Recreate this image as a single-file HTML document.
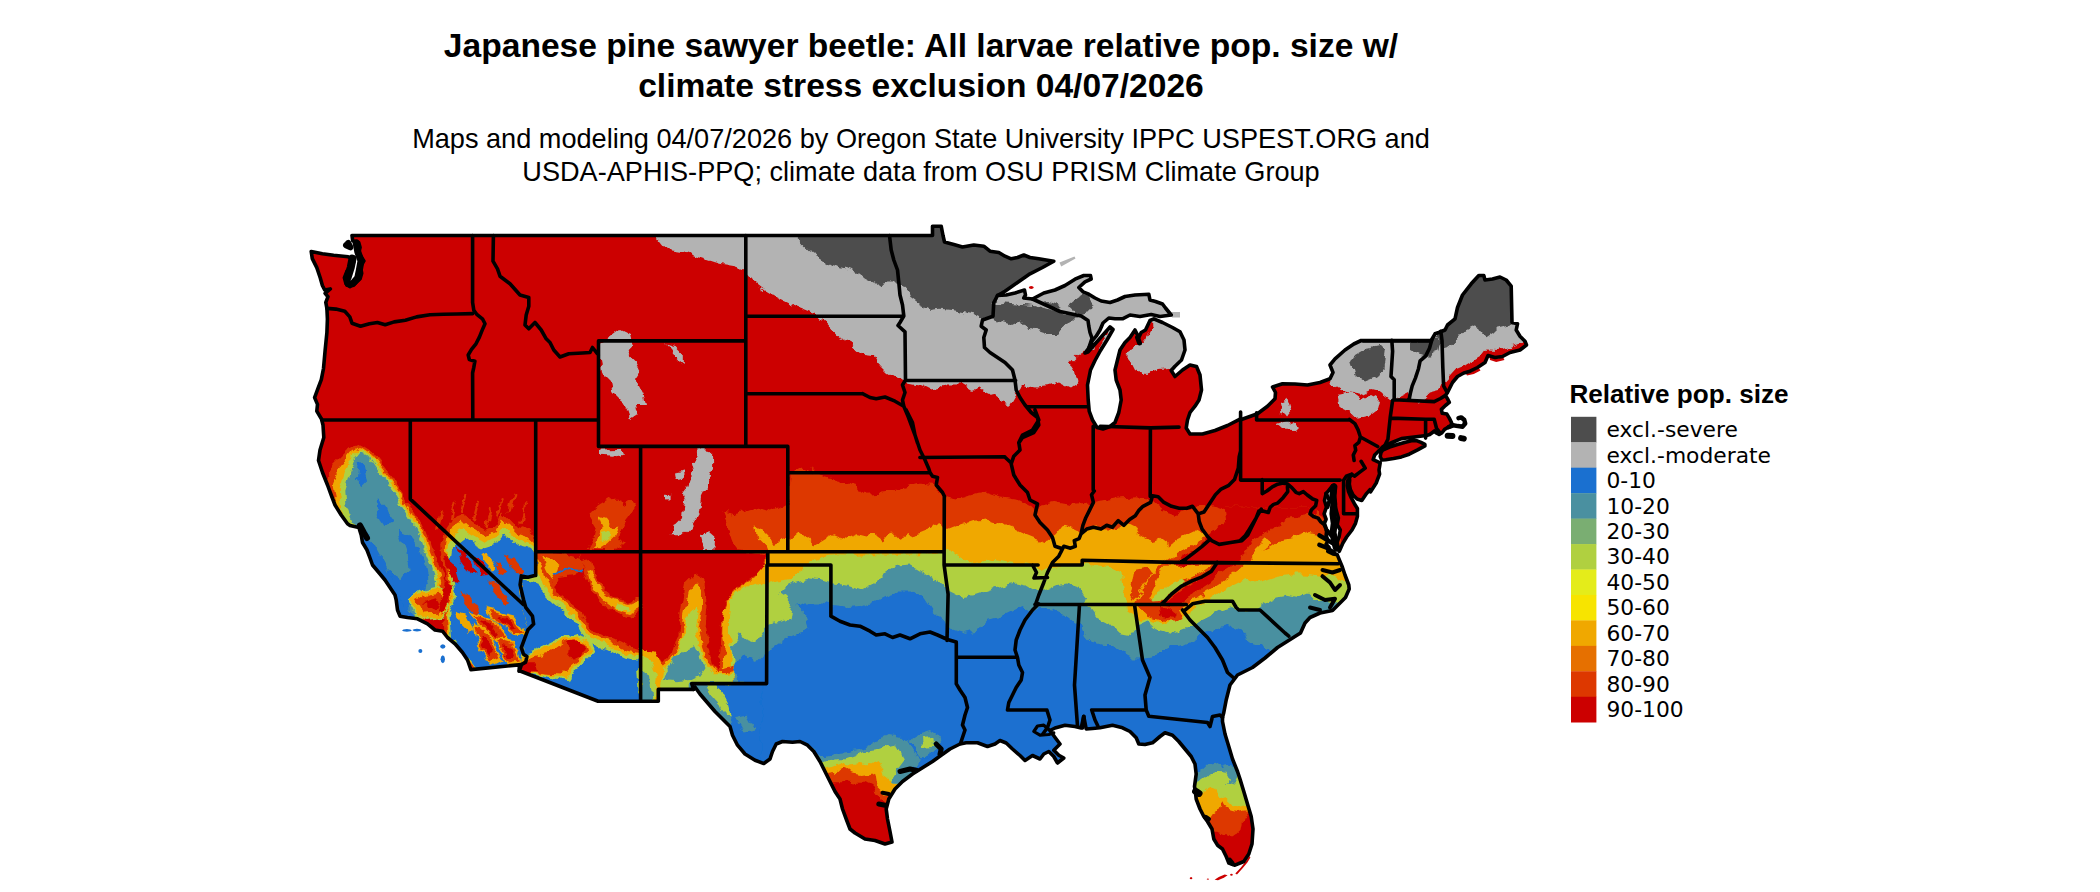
<!DOCTYPE html>
<html><head><meta charset="utf-8"><title>Japanese pine sawyer beetle</title>
<style>
html,body{margin:0;padding:0;background:#fff;}
svg{display:block}
.t{font:bold 33.6px "Liberation Sans",Arial,sans-serif;text-anchor:middle;fill:#000}
.s{font:27.13px "Liberation Sans",Arial,sans-serif;text-anchor:middle;fill:#000}
.lt{font:bold 26.1px "Liberation Sans",Arial,sans-serif;fill:#000}
.ll{font:21.8px "DejaVu Sans",Verdana,sans-serif;fill:#000}
</style></head><body>
<svg width="2100" height="892" viewBox="0 0 2100 892">
<rect width="2100" height="892" fill="#fff"/>
<text class="t" x="921" y="57.3">Japanese pine sawyer beetle: All larvae relative pop. size w/</text>
<text class="t" x="921" y="97">climate stress exclusion 04/07/2026</text>
<text class="s" x="921" y="148.1">Maps and modeling 04/07/2026 by Oregon State University IPPC USPEST.ORG and</text>
<text class="s" x="921" y="181.4">USDA-APHIS-PPQ; climate data from OSU PRISM Climate Group</text>
<defs><clipPath id="us"><path d="M352.3,235.5 932.5,235.5 932.5,226.2 941.2,226.2 943.0,235.5 944.5,242.0 953.8,244.5 962.5,247.0 973.8,245.0 983.8,246.2 990.0,251.2 998.8,252.5 1005.0,256.2 1011.2,258.8 1017.5,257.5 1023.8,255.0 1030.0,257.5 1038.8,258.8 1046.2,260.0 1053.8,261.2 1042.5,267.5 1030.0,273.8 1017.5,282.5 1005.0,291.2 997.5,295.5 1006.2,295.0 1015.0,293.0 1024.5,290.0 1025.5,295.0 1023.8,298.0 1032.5,299.0 1043.8,293.0 1055.0,290.0 1065.0,285.5 1075.0,279.2 1083.8,275.5 1090.5,275.5 1091.2,279.0 1085.0,281.8 1078.8,287.5 1083.0,291.8 1088.8,294.2 1095.0,298.0 1101.2,301.0 1110.0,302.5 1117.5,300.0 1125.0,296.5 1135.0,295.0 1148.8,294.2 1150.0,300.0 1155.5,301.5 1162.5,304.0 1165.5,308.0 1171.2,315.0 1160.0,316.5 1151.2,314.5 1140.0,316.5 1130.0,315.0 1122.5,318.8 1115.0,318.8 1108.8,318.0 1103.0,323.0 1100.0,330.0 1096.2,336.2 1092.5,340.5 1088.8,348.0 1085.0,353.0 1088.0,352.0 1095.0,344.0 1102.5,335.5 1110.0,327.0 1113.0,329.5 1107.0,340.0 1100.5,350.5 1095.0,360.5 1090.5,370.0 1087.5,385.0 1088.2,400.0 1089.2,411.2 1092.5,420.0 1097.0,427.5 1103.0,429.0 1110.0,426.5 1115.0,422.5 1118.8,412.5 1121.2,400.0 1120.0,390.0 1116.2,380.0 1115.0,370.0 1117.5,360.0 1120.0,350.0 1125.0,342.5 1130.0,337.5 1135.0,330.0 1138.8,337.5 1141.2,332.5 1145.5,330.0 1150.0,320.5 1153.8,318.8 1162.5,322.5 1172.5,327.5 1180.0,331.8 1184.0,340.0 1185.0,350.0 1181.5,360.0 1175.0,366.2 1171.2,370.5 1175.0,376.5 1182.5,370.0 1190.0,365.0 1196.5,366.5 1200.0,375.0 1201.5,390.0 1199.0,400.0 1195.0,406.2 1190.0,412.5 1187.5,420.0 1186.2,428.0 1190.0,434.0 1202.5,434.0 1215.0,430.5 1227.5,425.5 1240.0,419.2 1240.0,420.0 1257.5,413.8 1267.5,406.2 1275.0,398.8 1275.5,392.5 1272.5,387.0 1282.5,383.8 1295.0,384.0 1307.5,385.0 1320.0,382.5 1330.0,378.8 1333.0,372.5 1330.0,365.0 1335.0,358.8 1345.0,350.0 1353.8,344.0 1361.2,340.5 1431.2,340.5 1435.0,333.8 1438.8,332.5 1445.0,330.0 1447.5,325.0 1455.0,318.8 1457.5,307.5 1462.5,295.0 1471.2,283.8 1478.8,275.5 1483.8,275.5 1485.0,280.0 1492.5,279.0 1500.0,277.0 1506.2,280.0 1511.2,286.2 1512.0,322.5 1517.5,323.8 1516.2,330.0 1520.0,336.2 1525.0,341.2 1526.5,345.0 1520.0,350.0 1510.0,352.5 1502.5,356.5 1495.0,357.5 1488.0,355.5 1485.0,362.5 1477.5,367.5 1470.0,371.2 1463.8,373.0 1457.5,376.5 1452.5,382.5 1447.5,392.5 1445.5,395.5 1447.3,398.4 1449.3,402.4 1445.4,405.5 1441.4,409.4 1442.2,413.3 1446.9,414.1 1449.3,418.1 1451.6,422.8 1450.8,426.3 1447.7,427.5 1444.6,429.4 1441.8,433.0 1439.1,434.5 1436.3,433.0 1434.4,431.0 1432.8,432.2 1429.7,434.5 1426.5,435.5 1414.0,437.0 1401.4,438.6 1392.0,442.5 1383.3,446.3 1379.4,450.2 1374.7,454.9 1373.1,459.7 1380.2,462.8 1379.0,470.0 1379.6,474.0 1376.2,483.0 1370.6,491.9 1370.0,489.6 1366.5,493.6 1361.8,500.4 1357.1,499.0 1353.1,495.0 1350.4,489.6 1349.3,484.2 1349.7,479.9 1347.9,480.2 1347.3,485.6 1348.5,491.6 1351.2,497.7 1354.4,503.7 1357.4,508.5 1357.4,516.5 1355.5,523.3 1352.0,530.0 1346.6,537.0 1342.6,543.7 1339.3,551.3 1338.0,548.8 1337.2,542.1 1339.1,536.7 1340.3,530.0 1337.2,524.6 1338.4,517.9 1336.4,511.1 1335.0,504.4 1334.3,497.7 1335.0,491.0 1334.2,485.0 1332.6,485.6 1328.8,490.3 1326.1,493.6 1324.5,500.4 1326.4,507.1 1324.1,513.8 1326.1,519.2 1324.4,523.3 1326.8,530.0 1326.1,535.4 1328.2,540.8 1326.1,544.1 1329.1,547.5 1327.8,551.3 1332.9,553.9 1337.2,554.6 1342.0,566.2 1345.0,575.0 1348.8,585.0 1349.2,589.0 1345.5,597.5 1335.5,607.5 1332.5,610.5 1320.0,613.0 1310.0,617.5 1305.0,623.0 1300.5,633.0 1277.5,647.5 1265.0,658.0 1252.5,667.5 1237.5,675.0 1230.0,685.0 1226.2,700.0 1223.8,712.5 1222.5,717.5 1222.5,721.5 1225.0,734.0 1228.8,746.5 1232.5,759.0 1237.5,771.5 1240.0,779.0 1243.8,791.5 1247.5,804.0 1251.2,816.5 1253.0,829.0 1252.0,844.0 1248.8,854.0 1243.8,861.5 1235.0,865.2 1228.8,863.0 1226.2,856.5 1222.5,849.0 1217.5,845.2 1213.8,839.0 1212.0,829.0 1207.5,821.5 1203.8,816.5 1200.0,809.0 1196.2,799.0 1195.5,792.8 1194.5,786.5 1196.2,774.0 1195.0,764.0 1191.2,756.5 1185.0,749.0 1178.8,741.5 1172.5,735.2 1165.0,732.8 1160.0,736.5 1152.5,742.8 1145.0,744.5 1138.8,744.0 1136.2,737.8 1130.0,731.5 1122.5,727.8 1112.5,725.2 1100.0,727.8 1092.5,728.5 1086.2,729.0 1083.8,716.5 1081.2,728.0 1075.0,726.5 1065.0,725.2 1055.0,728.0 1050.0,730.5 1056.2,739.0 1060.0,744.0 1053.8,750.2 1058.8,755.2 1063.8,758.0 1057.5,763.0 1053.8,756.5 1048.8,751.5 1043.8,754.0 1040.0,759.0 1032.5,755.5 1025.0,760.5 1020.0,755.5 1012.5,749.0 1006.2,743.0 1000.0,740.5 995.0,744.0 987.5,746.5 977.5,742.8 966.2,742.8 960.0,744.0 950.0,749.0 941.2,755.2 932.5,761.5 922.5,767.8 912.5,774.0 902.5,781.5 895.0,789.0 888.8,799.0 886.2,809.0 887.5,819.0 890.0,831.5 892.0,842.0 885.0,844.0 875.0,840.5 865.0,839.0 855.0,833.0 850.0,829.0 846.2,819.0 842.5,809.0 840.0,799.0 835.0,791.5 830.0,781.5 825.0,771.5 820.0,761.5 813.8,751.5 807.5,745.2 800.0,741.5 792.5,742.2 782.5,741.5 776.2,744.0 772.5,751.5 770.0,759.0 763.8,763.5 755.0,760.2 745.0,754.0 737.5,745.2 732.5,735.2 730.0,726.5 722.5,719.0 715.0,711.5 707.5,702.8 700.0,694.0 695.0,687.0 693.6,689.4 658.3,689.4 658.3,701.3 598.1,701.3 519.5,670.7 521.4,664.6 470.9,669.6 467.5,660.0 462.5,652.5 455.0,643.8 447.5,637.5 442.5,631.2 435.0,630.0 427.5,623.8 417.5,618.8 407.5,617.5 400.0,616.2 397.5,610.0 396.2,600.0 395.0,595.0 390.0,587.5 385.0,580.0 378.8,572.5 372.5,565.0 370.0,558.0 367.0,550.0 362.5,542.5 361.2,535.0 358.8,527.5 350.0,525.5 347.5,523.8 341.2,515.0 335.0,505.0 331.2,495.0 327.5,485.0 322.5,472.5 318.5,460.5 320.0,450.0 323.8,437.5 323.0,425.0 321.5,419.0 316.8,411.1 317.5,404.4 314.6,397.6 317.9,388.7 321.3,379.7 323.5,368.5 325.1,350.6 326.9,332.6 327.4,319.2 326.9,308.4 325.8,302.4 328.0,296.7 325.1,293.4 330.3,288.9 324.7,290.0 322.4,285.5 320.2,277.7 316.8,267.6 312.3,258.6 311.2,251.5 322.4,253.7 333.6,255.3 348.2,256.8 352.0,258.6 353.8,262.0 352.0,266.5 347.1,271.0 344.4,277.7 346.0,283.7 349.8,286.7 354.9,283.7 360.1,278.8 361.7,273.2 360.5,266.5 363.9,260.9 358.7,253.0 360.1,247.4 358.7,242.5 352.7,240.7 352.0,235.5Z M1381.0,452.6 1382.6,450.2 1389.6,447.1 1396.7,444.7 1404.5,442.4 1412.4,440.4 1417.1,440.8 1421.0,442.4 1424.9,444.3 1424.9,445.9 1417.1,450.2 1409.2,454.2 1401.4,456.9 1393.5,458.5 1385.7,459.7 1381.8,460.0 1380.2,456.5Z"/></clipPath><filter id="rag" x="0" y="0" width="100%" height="100%" filterUnits="userSpaceOnUse"><feTurbulence type="fractalNoise" baseFrequency="0.09" numOctaves="3" seed="7" result="n"/><feDisplacementMap in="SourceGraphic" in2="n" scale="9" xChannelSelector="R" yChannelSelector="G"/></filter></defs>
<g clip-path="url(#us)"><g filter="url(#rag)">
<rect x="250" y="170" width="1340" height="760" fill="#cc0000"/>
<path d="M721.1,640.0 722.2,619.4 725.6,601.4 734.5,589.1 745.7,581.3 757.0,574.5 764.8,565.6 767.0,554.3 736.8,550.3 732.3,538.7 727.8,525.2 722.2,511.7 734.5,514.0 745.7,510.6 757.0,507.3 770.4,511.7 779.4,507.3 787.9,505.0 789.5,475.9 801.8,467.4 813.0,473.6 811.7,466.9 816.2,473.6 836.4,479.2 856.6,484.8 862.2,493.8 879.0,492.7 897.0,490.4 910.4,486.0 919.4,483.7 930.6,484.8 942.9,493.8 955.2,499.4 968.7,496.1 977.7,493.8 986.6,492.7 1000.1,497.2 1015.8,499.4 1031.5,507.3 1038.2,512.2 1040.0,505.0 1053.5,501.7 1069.1,505.0 1084.8,503.9 1093.8,501.7 1107.3,499.4 1120.7,498.3 1136.4,497.2 1147.6,498.3 1154.3,503.9 1161.1,509.5 1174.5,514.0 1188.0,509.5 1197.0,505.0 1205.9,505.0 1214.9,505.5 1226.1,509.5 1241.8,511.7 1264.2,515.1 1286.6,518.5 1304.6,516.7 1315.8,514.4 1322.5,518.5 1329.2,525.2 1338.2,534.2 1341.6,547.6 1353.9,547.6 1560.0,900.0 700.0,900.0Z" fill="#dd3800"/>
<path d="M722.2,760.0 722.9,665.4 725.6,649.7 722.2,634.0 722.9,618.3 724.4,604.8 724.4,608.2 728.9,597.0 736.8,588.4 745.7,582.4 754.7,577.2 761.4,569.6 767.0,561.1 768.2,552.1 765.9,545.4 757.0,536.4 754.7,525.2 761.4,529.2 770.4,538.7 774.9,545.4 779.4,538.7 787.9,536.4 790.4,538.7 798.3,531.9 807.3,538.7 814.0,545.4 825.2,538.7 834.2,534.2 845.4,538.7 856.6,534.2 865.6,536.4 874.5,534.2 883.5,540.9 892.5,529.7 901.4,538.7 910.4,534.2 919.4,531.9 930.6,527.4 937.3,523.0 942.9,529.7 948.5,529.7 959.7,525.2 973.2,520.7 986.6,519.6 1000.1,524.1 1013.5,528.6 1024.8,534.2 1036.0,538.7 1044.9,542.0 1055.7,534.2 1062.4,525.2 1069.1,527.4 1078.1,531.9 1084.8,529.7 1096.1,527.4 1107.3,527.4 1116.2,529.7 1125.2,523.0 1134.2,527.4 1138.7,534.2 1145.4,538.7 1152.1,540.9 1161.1,538.7 1170.0,545.4 1179.0,538.7 1188.0,534.2 1197.0,529.7 1205.9,534.2 1248.5,556.6 1259.7,552.1 1273.2,545.4 1282.2,538.7 1295.6,536.4 1309.1,531.9 1318.0,534.2 1324.8,540.9 1338.2,552.1 1353.9,556.6 1560.0,900.0 700.0,900.0Z" fill="#f0a800"/>
<path d="M728.9,760.0 729.6,665.4 732.3,649.7 728.9,634.0 728.9,618.3 730.0,604.8 728.9,601.4 736.8,591.3 748.0,584.6 757.0,581.3 765.9,583.5 770.4,583.5 779.4,581.3 790.6,579.0 797.3,572.3 806.3,565.6 815.2,558.8 824.2,555.5 820.7,556.6 834.2,554.3 852.1,554.8 874.5,554.3 897.0,554.8 919.4,554.3 942.9,552.1 948.5,547.6 955.2,554.3 964.2,558.8 977.7,562.2 986.6,558.8 1000.1,561.1 1013.5,563.3 1031.5,565.6 1040.4,570.0 1049.4,566.7 1053.5,567.8 1066.9,565.6 1082.6,563.3 1098.3,565.6 1114.0,567.8 1123.0,572.3 1134.2,571.2 1145.4,574.5 1156.6,579.0 1165.6,585.7 1179.0,592.5 1197.0,597.0 1210.4,594.7 1219.4,590.2 1232.8,583.5 1241.8,579.0 1255.2,583.5 1264.2,581.3 1277.7,576.8 1291.1,574.5 1304.6,574.5 1320.3,576.8 1331.5,574.5 1347.2,583.5 1358.4,585.7 1560.0,900.0 700.0,900.0Z" fill="#b0d040"/>
<path d="M734.5,760.0 734.5,658.7 732.3,649.7 739.0,634.0 757.0,640.7 765.9,627.3 767.0,625.0 769.3,623.9 790.6,619.4 792.8,605.9 786.1,597.0 779.4,592.5 786.1,585.7 795.1,581.3 806.3,577.9 819.7,580.1 832.1,583.5 834.2,583.5 847.6,585.7 861.1,590.2 874.5,583.5 883.5,574.5 897.0,565.6 910.4,564.4 919.4,570.0 930.6,576.8 942.9,583.5 950.8,590.2 964.2,597.0 977.7,594.7 991.1,590.2 1004.6,585.7 1015.8,583.5 1027.0,585.7 1038.2,592.5 1049.4,588.0 1053.5,585.7 1066.9,583.5 1080.4,588.0 1087.1,597.0 1084.8,603.7 1083.7,604.7 1091.6,609.1 1098.3,618.1 1107.3,622.6 1118.5,633.8 1129.7,636.1 1138.7,624.8 1147.6,620.4 1156.6,629.3 1165.6,631.6 1174.5,633.8 1185.7,629.3 1194.7,624.8 1201.4,620.4 1210.4,615.9 1219.4,611.4 1232.8,606.9 1241.8,611.4 1255.2,609.1 1264.2,602.4 1273.2,597.9 1286.6,595.7 1297.8,597.9 1309.1,593.5 1315.8,600.2 1331.5,604.7 1353.9,593.5 1560.0,900.0 700.0,900.0Z" fill="#4a90a0"/>
<path d="M739.0,760.0 739.0,685.6 734.5,665.4 743.5,654.2 757.0,660.9 767.0,649.7 769.3,649.7 779.4,643.0 790.6,636.2 808.5,629.5 806.3,616.1 797.3,604.8 806.3,602.6 824.2,602.6 832.1,604.8 829.7,604.8 847.6,607.0 861.1,605.9 874.5,601.4 883.5,597.0 897.0,592.5 910.4,592.5 923.9,597.0 932.8,610.4 942.9,619.4 950.8,628.3 964.2,632.8 977.7,630.6 986.6,619.4 1000.1,617.1 1013.5,610.4 1022.5,605.9 1031.5,612.6 1040.4,605.9 1040.0,606.9 1053.5,609.1 1062.4,613.6 1073.6,622.6 1081.5,624.8 1084.8,633.8 1091.6,641.7 1102.8,645.0 1114.0,645.0 1125.2,654.0 1134.2,658.5 1145.4,658.5 1152.1,657.4 1161.1,651.7 1170.0,647.3 1183.5,645.0 1194.7,639.4 1201.4,633.8 1210.4,630.4 1219.4,628.2 1228.3,626.0 1237.3,629.3 1246.3,633.8 1248.5,642.8 1255.2,645.0 1262.0,645.0 1266.5,651.7 1286.6,651.7 1560.0,900.0 700.0,900.0Z" fill="#1a70d0"/>
<path d="M444.8,529.5 452.1,518.6 462.9,515.0 473.8,522.2 484.6,529.5 495.5,525.9 502.8,511.4 510.0,518.6 517.2,525.9 528.1,529.5 535.3,536.7 535.3,576.5 522.7,576.5 526.3,601.9 533.5,623.6 520.9,656.2 519.0,668.9 472.0,668.9 470.2,663.4 444.8,638.1 443.0,612.8 448.4,598.3 446.6,580.2 443.0,562.1 441.2,544.0Z" fill="#dd3800"/>
<path d="M446.6,534.9 453.9,525.1 462.9,521.5 473.8,528.8 484.6,536.0 495.5,532.4 502.8,518.6 510.0,525.1 517.2,532.4 528.1,536.0 535.3,542.2 535.3,576.5 522.7,576.5 526.3,601.9 533.5,623.6 520.9,656.2 519.0,668.9 473.8,668.9 448.4,638.1 446.6,612.8 451.3,598.3 449.2,580.2 445.9,562.1 444.8,547.6Z" fill="#f0a800"/>
<path d="M449.2,542.2 455.7,533.1 462.9,528.8 473.8,536.0 484.6,542.2 495.5,538.5 502.8,527.7 510.0,533.1 517.2,538.5 528.1,542.2 535.3,547.6 535.3,576.5 522.7,576.5 526.3,601.9 533.5,623.6 520.9,656.2 519.0,668.9 474.9,668.9 450.3,638.1 448.4,612.8 453.1,598.3 451.0,580.2 447.7,562.1 446.6,551.2Z" fill="#b0d040"/>
<path d="M452.1,549.4 457.5,542.2 464.7,536.7 473.8,543.2 484.6,548.3 495.5,544.7 502.8,536.0 510.0,540.3 517.2,544.7 528.1,547.6 535.3,553.0 535.3,576.5 522.7,576.5 526.3,601.9 533.5,623.6 520.9,656.2 519.0,668.9 475.6,668.9 452.1,638.1 450.3,612.8 455.0,598.3 452.8,580.2 450.3,562.1Z" fill="#1a70d0"/>
<path d="M359.7,444.4 374.2,453.4 390.5,475.2 402.1,493.3 415.1,515.0 426.7,533.1 433.2,551.2 439.4,565.7 444.8,580.2 443.0,598.3 437.6,612.8 419.5,623.6 444.8,638.1 470.2,665.2 473.8,670.7 390.5,670.7 336.2,518.6 325.3,482.4 332.6,464.3 347.1,449.8Z" fill="#dd3800"/>
<path d="M359.7,446.9 372.4,455.3 388.0,475.9 399.6,494.0 412.6,515.7 424.2,533.8 430.3,551.9 436.5,566.4 441.2,580.2 439.4,596.5 434.0,609.1 415.9,620.7 444.8,641.7 468.4,665.2 390.5,670.7 339.8,518.6 332.6,486.0 339.8,467.9 350.7,453.4Z" fill="#f0a800"/>
<path d="M359.7,449.1 371.0,456.3 385.8,476.6 397.4,494.7 410.4,516.4 422.0,534.5 428.2,552.7 434.3,567.1 438.7,580.2 436.9,594.6 431.1,606.2 414.0,618.2 444.8,645.3 466.5,665.2 390.5,670.7 343.4,518.6 339.8,489.7 345.3,471.5 353.6,455.3Z" fill="#b0d040"/>
<path d="M359.7,451.3 369.5,457.1 383.6,477.3 395.2,495.4 408.3,517.2 419.8,535.3 426.0,553.4 432.2,567.9 436.1,580.2 434.0,592.8 428.5,603.7 412.2,612.8 419.5,627.2 444.8,649.0 464.7,665.2 390.5,670.7 354.3,525.9 346.3,504.1 345.3,489.7 350.7,471.5 355.0,457.1Z" fill="#4a90a0"/>
<path d="M397.8,529.5 408.6,534.9 418.8,547.6 426.0,565.7 428.5,580.2 424.9,591.0 412.2,598.3 408.6,609.1 419.5,627.2 444.8,650.8 462.9,665.2 394.1,670.7 363.4,547.6 372.4,554.8 386.9,569.3 401.4,580.2 408.6,569.3 405.0,551.2Z" fill="#1a70d0"/>
<path d="M377.8,496.9 386.9,507.8 392.3,522.2 385.1,525.9 377.8,515.0Z" fill="#1a70d0"/>
<path d="M357.9,529.5 367.0,533.1 383.3,562.1 397.8,591.0 405.0,612.8 394.1,612.8 372.4,576.5Z" fill="#1a70d0"/>
<path d="M357.9,460.7 363.4,464.3 367.0,482.4 361.5,487.8 356.1,478.8Z" fill="#1a70d0"/>
<path d="M406.8,598.3 423.1,589.9 438.3,586.3 446.3,590.3 449.9,605.5 441.9,617.8 426.7,620.0 414.4,614.2Z" fill="#b0d040"/>
<path d="M408.6,598.3 423.1,591.8 437.6,588.1 444.8,591.8 448.4,605.5 441.2,616.4 426.7,618.2 415.9,612.8Z" fill="#f0a800"/>
<path d="M415.9,600.1 426.7,594.6 439.4,592.8 444.1,603.7 437.6,612.8 424.9,613.5Z" fill="#dd3800"/>
<path d="M423.1,601.9 435.8,598.3 439.4,605.5 430.3,609.9Z" fill="#cc0000"/>
<path d="M444.8,554.8 453.9,562.1 459.3,580.2 453.9,582.0 446.6,569.3Z" fill="#cc0000"/>
<path d="M455.7,547.6 466.5,554.8 475.6,572.9 470.2,574.7 461.1,562.1Z" fill="#cc0000"/>
<path d="M470.2,554.8 481.0,562.1 488.3,572.9 481.0,573.6Z" fill="#cc0000"/>
<path d="M495.5,562.1 508.2,569.3 502.8,574.7Z" fill="#dd3800"/>
<path d="M444.8,580.2 452.1,583.8 450.3,598.3 443.0,612.8 437.6,610.9 443.0,594.6Z" fill="#cc0000"/>
<path d="M459.3,591.0 470.2,596.5 481.0,612.8 475.6,614.6 464.7,601.9Z" fill="#dd3800"/>
<path d="M488.3,580.2 499.1,585.6 510.0,601.9 504.6,603.7 493.7,591.0Z" fill="#dd3800"/>
<path d="M502.8,554.8 513.6,558.4 524.5,572.9 519.0,574.7 508.2,563.9Z" fill="#dd3800"/>
<path d="M517.2,583.8 526.3,587.4 531.7,605.5 526.3,607.3 520.9,594.6Z" fill="#f0a800"/>
<path d="M455.7,612.8 466.5,616.4 473.8,630.9 468.4,632.7 459.3,623.6Z" fill="#f0a800"/>
<path d="M481.0,553.0 490.1,556.6 497.3,569.3 491.9,570.4 484.6,562.1Z" fill="#f0a800"/>
<path d="M448.8,519.7 451.0,511.4 453.9,500.5 455.7,501.6 453.1,512.5 451.3,520.4Z" fill="#dd3800"/>
<path d="M459.7,512.5 461.8,504.1 464.7,493.3 466.5,494.4 464.0,505.2 462.2,513.2Z" fill="#dd3800"/>
<path d="M472.3,519.7 474.5,511.4 477.4,500.5 479.2,501.6 476.7,512.5 474.9,520.4Z" fill="#dd3800"/>
<path d="M495.9,517.9 498.0,509.6 500.9,498.7 502.8,499.8 500.2,510.7 498.4,518.6Z" fill="#dd3800"/>
<path d="M508.5,510.7 510.7,502.3 513.6,491.5 515.4,492.5 512.9,503.4 511.1,511.4Z" fill="#dd3800"/>
<path d="M520.1,523.3 522.3,515.0 525.2,504.1 527.0,505.2 524.5,516.1 522.7,524.0Z" fill="#dd3800"/>
<path d="M436.1,528.8 438.3,520.4 441.2,509.6 443.0,510.7 440.5,521.5 438.7,529.5Z" fill="#dd3800"/>
<path d="M485.0,526.9 487.2,518.6 490.1,507.8 491.9,508.8 489.4,519.7 487.5,527.7Z" fill="#dd3800"/>
<path d="M468.4,610.4 492.8,618.5 509.1,640.3 500.9,645.7 479.2,626.7Z" fill="#f0a800"/>
<path d="M472.7,614.0 492.3,620.5 505.3,637.9 498.8,642.2 481.4,627.0Z" fill="#dd3800"/>
<path d="M479.9,620.0 491.3,623.8 499.0,633.9 495.1,636.4 485.0,627.6Z" fill="#cc0000"/>
<path d="M484.1,607.5 514.0,615.6 527.6,634.7 516.7,637.4 495.0,621.1Z" fill="#f0a800"/>
<path d="M488.8,610.7 512.7,617.2 523.5,632.4 514.8,634.5 497.5,621.5Z" fill="#dd3800"/>
<path d="M496.6,615.9 510.5,619.7 516.8,628.6 511.8,629.8 501.6,622.2Z" fill="#cc0000"/>
<path d="M472.7,623.4 489.0,631.6 502.6,661.4 491.7,666.9 478.1,645.2Z" fill="#f0a800"/>
<path d="M475.5,627.9 488.6,634.4 499.4,658.3 490.7,662.6 479.9,645.3Z" fill="#dd3800"/>
<path d="M480.2,635.3 487.8,639.1 494.2,653.0 489.1,655.6 482.8,645.4Z" fill="#cc0000"/>
<path d="M494.2,636.5 513.2,641.9 521.3,663.7 507.7,666.4Z" fill="#f0a800"/>
<path d="M497.1,639.6 512.3,644.0 518.9,661.4 508.0,663.5Z" fill="#dd3800"/>
<path d="M502.1,644.8 511.0,647.4 514.8,657.5 508.5,658.8Z" fill="#cc0000"/>
<path d="M537.0,553.5 545.9,566.9 550.4,582.6 559.4,593.8 572.8,605.0 581.8,611.7 587.4,623.0 595.2,631.9 604.2,636.4 613.2,638.7 622.2,643.1 631.1,647.6 641.2,649.9 641.2,703.7 518.6,703.7 518.6,668.9 524.6,663.3 522.4,647.6 526.9,625.2 520.1,596.1 523.5,577.7 535.6,577.2 535.6,553.5Z" fill="#dd3800"/>
<path d="M537.0,560.2 543.7,571.4 548.2,584.8 557.1,596.1 570.6,607.3 579.6,615.1 585.2,626.3 593.0,635.3 602.0,639.8 610.9,642.0 619.9,646.5 628.9,651.0 641.2,653.2 641.2,703.7 518.6,703.7 518.6,668.9 524.6,663.3 522.4,647.6 526.9,625.2 520.1,596.1 523.5,577.7 535.6,577.2 535.6,560.2Z" fill="#f0a800"/>
<path d="M534.7,569.1 541.4,578.1 545.9,589.3 554.9,599.4 568.3,610.6 577.3,618.5 582.9,629.7 590.8,638.7 599.7,643.1 608.7,645.4 617.7,649.9 626.6,654.3 641.2,656.6 641.2,703.7 518.6,703.7 518.6,668.9 524.6,663.3 522.4,647.6 526.9,625.2 520.1,596.1 523.5,577.7 535.6,577.2 535.6,569.1Z" fill="#b0d040"/>
<path d="M523.5,578.1 537.0,582.6 543.7,593.8 552.6,602.8 566.1,614.0 575.1,621.8 580.7,633.0 588.5,642.0 597.5,646.5 606.5,648.7 615.4,653.2 624.4,657.7 637.8,661.1 640.1,703.7 518.6,703.7 518.6,668.9 524.6,663.3 522.4,647.6 526.9,625.2 520.1,596.1 523.5,578.1 535.6,578.1 535.6,578.1Z" fill="#1a70d0"/>
<path d="M521.3,654.3 537.0,649.9 550.4,643.1 563.9,636.4 577.3,634.2 590.8,640.9 594.1,652.1 584.0,663.3 575.1,670.0 568.3,681.3 557.1,679.0 519.0,672.3Z" fill="#b0d040"/>
<path d="M521.7,656.6 537.0,652.1 550.4,645.4 563.9,638.7 577.3,636.4 588.5,643.1 591.2,652.1 581.8,661.1 572.8,667.8 566.1,679.0 557.1,676.8 519.5,671.2Z" fill="#f0a800"/>
<path d="M522.6,661.1 537.0,656.6 550.4,652.1 563.9,642.0 577.3,639.8 585.2,644.3 587.4,652.1 579.6,658.8 570.6,665.6 561.6,674.5 545.9,673.4 520.8,670.0Z" fill="#dd3800"/>
<path d="M568.3,640.9 579.6,640.9 585.2,647.6 581.8,656.6 572.8,658.8 567.2,652.1Z" fill="#cc0000"/>
<path d="M523.5,662.2 534.7,662.2 537.0,670.0 525.7,672.7 520.1,668.9Z" fill="#cc0000"/>
<path d="M581.8,560.2 590.8,557.9 595.2,573.6 604.2,589.3 615.4,598.3 628.9,601.7 640.1,597.2 641.2,611.7 628.9,617.4 615.4,612.9 600.9,601.7 589.6,587.1 584.0,573.6Z" fill="#dd3800"/>
<path d="M587.4,571.4 591.9,571.4 596.4,581.5 604.2,592.7 615.4,600.5 628.9,603.9 637.8,601.7 639.0,609.5 628.9,614.0 615.4,610.0 602.0,598.7 590.8,584.8Z" fill="#f0a800"/>
<path d="M617.7,605.0 628.9,607.3 632.2,610.6 622.2,611.3 615.4,608.4Z" fill="#b0d040"/>
<path d="M537.0,553.5 550.4,552.3 566.1,553.5 581.8,557.9 582.9,569.1 572.8,575.9 559.4,578.1 552.6,587.1 545.9,573.6 540.3,564.7Z" fill="#dd3800"/>
<path d="M541.4,555.7 550.4,557.9 559.4,564.7 557.1,573.6 550.4,578.1 545.9,569.1Z" fill="#f0a800"/>
<path d="M552.6,573.6 566.1,568.0 581.8,570.3 582.9,572.5 567.2,570.3 553.8,575.9Z" fill="#1a70d0"/>
<path d="M589.2,514.2 598.2,505.2 609.4,498.5 618.4,497.4 622.9,505.2 631.8,500.7 636.3,505.2 629.6,516.4 622.9,525.4 618.4,536.6 622.9,545.6 613.9,550.0 598.2,550.0 587.0,548.9 593.7,536.6 596.0,525.4Z" fill="#dd3800"/>
<path d="M598.2,516.4 604.9,518.7 611.7,527.6 618.4,525.4 613.9,536.6 607.2,543.3 600.4,547.8 591.5,548.9 598.2,536.6 602.7,527.6Z" fill="#f0a800"/>
<path d="M602.7,532.1 610.5,529.9 609.4,538.8 602.7,542.2Z" fill="#b0d040"/>
<path d="M685.2,582.4 694.2,573.5 705.4,580.2 707.6,604.8 705.4,627.3 707.6,645.2 712.1,663.1 718.8,672.1 725.6,667.6 734.5,665.4 734.5,703.5 642.6,703.5 642.6,649.7 651.6,656.4 662.8,660.9 671.7,654.2 678.5,634.0 680.7,611.6Z" fill="#dd3800"/>
<path d="M688.6,593.6 696.4,582.4 702.0,589.1 702.0,609.3 698.7,627.3 702.0,645.2 707.6,660.9 716.6,672.1 725.6,672.1 734.5,669.9 734.5,703.5 642.6,703.5 642.6,656.4 651.6,663.1 662.8,665.4 674.0,656.4 681.8,636.2 684.1,613.8Z" fill="#f0a800"/>
<path d="M686.3,618.3 694.2,604.8 698.7,613.8 696.4,634.0 700.9,649.7 705.4,663.1 714.3,674.3 725.6,674.3 734.5,672.1 734.5,703.5 642.6,703.5 642.6,665.4 653.8,669.9 665.0,667.6 676.2,656.4 683.0,638.5Z" fill="#b0d040"/>
<path d="M674.0,658.7 683.0,649.7 694.2,645.2 700.9,658.7 705.4,667.6 698.7,676.6 689.7,681.1 676.2,682.2 662.8,681.1 665.0,672.1Z" fill="#4a90a0"/>
<path d="M642.6,676.6 656.1,678.8 657.2,694.5 642.6,701.3Z" fill="#4a90a0"/>
<path d="M641.2,647.6 655.8,652.1 662.5,665.6 660.3,685.7 658.0,701.4 641.2,701.4Z" fill="#f0a800"/>
<path d="M641.2,656.6 652.4,661.1 656.9,674.5 654.7,701.4 641.2,701.4Z" fill="#b0d040"/>
<path d="M641.2,670.0 649.1,674.5 651.3,701.4 641.2,701.4Z" fill="#4a90a0"/>
<path d="M689.7,682.9 757.0,682.9 757.0,761.8 689.7,761.8Z" fill="#4a90a0"/>
<path d="M705.4,684.7 716.6,684.7 726.7,703.5 729.6,717.0 724.4,717.0 718.8,703.5 711.0,694.5Z" fill="#b0d040"/>
<path d="M716.6,683.8 761.4,683.8 761.4,761.8 734.5,761.8 730.0,717.0 726.7,703.5Z" fill="#1a70d0"/>
<path d="M734.5,717.0 745.7,714.7 754.7,730.4 743.5,732.6Z" fill="#4a90a0"/>
<path d="M1120.0,562.0 1215.0,562.0 1175.0,610.0 1141.0,620.0 1127.0,609.0 1124.0,589.0Z" fill="#f0a800"/>
<path d="M1174.5,545.4 1161.1,552.1 1145.4,561.1 1129.7,565.6 1125.2,574.5 1129.7,588.0 1134.2,601.4 1138.7,612.6 1152.1,621.6 1165.6,623.9 1179.0,619.4 1192.5,610.4 1205.9,601.4 1219.4,592.5 1232.8,583.5 1246.3,572.3 1255.2,561.1 1264.2,549.9 1273.2,543.1 1264.2,538.7 1241.8,543.1 1219.4,545.4 1197.0,543.1Z" fill="#f0a800"/>
<path d="M1201.4,538.7 1188.0,547.6 1174.5,556.6 1161.1,564.4 1152.1,574.5 1145.4,585.7 1138.7,597.0 1135.3,603.7 1147.6,616.0 1161.1,619.4 1174.5,614.9 1183.5,607.0 1197.0,598.1 1210.4,589.1 1223.9,580.1 1237.3,571.2 1248.5,560.0 1255.2,548.7 1264.2,539.8 1277.7,530.8 1286.6,524.1 1304.6,520.3 1318.0,518.0 1318.0,507.3 1226.1,507.3 1219.4,529.7Z" fill="#dd3800"/>
<path d="M1163.2,565.7 1213.0,564.4 1194.1,576.5 1180.7,583.2 1169.9,589.9 1160.5,599.4 1147.1,600.7 1153.8,587.2 1157.8,576.5Z" fill="#f0a800"/>
<path d="M1169.9,583.2 1180.7,579.2 1186.1,583.2 1172.6,592.6 1163.2,600.7 1151.1,601.4 1159.2,591.3Z" fill="#b0d040"/>
<path d="M1226.1,509.5 1227.2,520.7 1219.4,527.4 1212.6,529.7 1208.2,536.4 1205.9,540.9 1201.4,545.4 1194.7,549.9 1185.7,554.3 1176.8,560.0 1172.3,565.6 1183.5,565.6 1197.0,563.3 1208.2,562.2 1217.1,562.2 1210.4,570.0 1201.4,576.8 1192.5,583.5 1183.5,590.2 1174.5,597.0 1165.6,602.6 1160.0,607.0 1174.5,605.9 1185.7,598.1 1197.0,591.3 1210.4,582.4 1219.4,574.5 1232.8,565.6 1241.8,556.6 1248.5,547.6 1255.2,538.7 1264.2,533.7 1277.7,524.8 1286.6,518.0 1304.6,515.6 1315.8,513.5 1315.8,507.3 1226.1,507.3Z" fill="#cc0000"/>
<path d="M1154.3,605.9 1165.6,604.8 1179.0,608.2 1183.5,617.1 1174.5,621.6 1161.1,620.5 1154.3,614.9Z" fill="#dd3800"/>
<path d="M1158.8,608.2 1170.0,608.2 1176.8,613.8 1170.0,618.3 1161.1,617.1Z" fill="#cc0000"/>
<path d="M1134.2,570.0 1145.4,567.8 1152.1,572.3 1145.4,583.5 1138.7,594.7 1133.0,600.3 1129.7,594.7 1131.9,583.5Z" fill="#dd3800"/>
<path d="M795.7,746.7 809.8,746.7 817.7,756.1 827.1,756.1 839.7,753.0 850.6,751.4 861.6,749.8 871.1,745.1 880.5,738.8 889.9,734.1 899.3,735.7 905.6,742.0 913.4,738.8 921.3,734.1 930.7,731.0 938.6,735.7 940.1,743.5 937.0,749.8 930.7,751.4 921.3,757.7 916.6,765.5 910.3,768.7 952.7,768.7 952.7,798.5 952.7,860.0 795.7,860.0Z" fill="#4a90a0"/>
<path d="M907.2,740.4 913.4,751.4 918.1,760.8 937.0,753.0 937.0,750.6 930.7,752.2 921.3,758.5 916.6,756.9 915.0,745.1Z" fill="#1a70d0"/>
<path d="M795.7,764.0 820.0,764.0 827.1,760.8 836.5,759.2 845.9,759.2 855.4,756.1 863.2,751.4 874.2,749.8 883.6,748.3 889.9,745.1 896.2,743.5 900.9,751.4 904.0,760.8 899.3,767.1 893.0,773.4 889.9,782.8 952.7,782.8 952.7,798.5 952.7,860.0 795.7,860.0Z" fill="#b0d040"/>
<path d="M922.1,738.1 932.3,737.0 933.1,745.9 922.9,747.0Z" fill="#b0d040"/>
<path d="M795.7,768.7 822.4,768.7 831.8,767.1 842.8,762.4 849.1,765.5 858.5,764.0 867.9,765.5 877.3,760.8 882.0,767.1 883.6,774.9 889.9,779.7 889.9,782.8 952.7,785.9 952.7,798.5 952.7,860.0 795.7,860.0Z" fill="#f0a800"/>
<path d="M795.7,774.9 825.5,774.9 834.9,773.4 839.7,768.7 845.9,767.1 853.8,773.4 861.6,774.9 871.1,773.4 875.8,776.5 877.3,785.9 882.0,790.6 886.8,793.8 952.7,795.4 952.7,798.5 952.7,860.0 795.7,860.0Z" fill="#dd3800"/>
<path d="M795.7,782.8 828.7,782.8 836.5,781.2 845.9,781.2 855.4,782.8 864.8,782.8 871.1,785.9 875.8,790.6 880.5,796.9 883.6,801.6 952.7,804.8 952.7,798.5 952.7,860.0 795.7,860.0Z" fill="#cc0000"/>
<path d="M1176.8,771.9 1199.5,771.9 1203.7,768.6 1208.7,763.5 1215.5,762.7 1222.2,766.9 1227.2,765.2 1233.9,766.9 1277.6,766.9 1277.6,790.4 1277.6,889.9 1176.8,889.9Z" fill="#4a90a0"/>
<path d="M1176.8,783.7 1197.0,783.7 1202.0,780.3 1207.1,778.7 1212.1,773.6 1218.8,771.1 1225.5,771.9 1228.9,778.7 1227.2,783.7 1233.9,785.4 1237.3,778.7 1240.7,773.6 1277.6,773.6 1277.6,790.4 1277.6,889.9 1176.8,889.9Z" fill="#b0d040"/>
<path d="M1176.8,795.5 1198.7,795.5 1203.7,788.7 1210.4,787.1 1215.5,788.7 1217.1,795.5 1222.2,797.1 1227.2,800.5 1232.3,805.5 1237.3,807.2 1244.0,805.5 1247.4,803.9 1277.6,803.9 1277.6,790.4 1277.6,889.9 1176.8,889.9Z" fill="#f0a800"/>
<path d="M1176.8,820.7 1205.4,820.7 1210.4,819.0 1213.8,813.9 1218.8,810.6 1222.2,802.2 1225.5,807.2 1230.6,810.6 1237.3,812.3 1244.0,810.6 1249.1,810.6 1277.6,810.6 1277.6,790.4 1277.6,889.9 1176.8,889.9Z" fill="#dd3800"/>
<path d="M1176.8,830.8 1210.4,830.8 1215.5,830.8 1220.5,834.1 1227.2,835.8 1232.3,837.5 1237.3,834.1 1242.4,829.1 1244.0,820.7 1247.4,813.9 1251.6,812.3 1277.6,812.3 1277.6,790.4 1277.6,889.9 1176.8,889.9Z" fill="#cc0000"/>
<path d="M657.5,220.0 657.5,237.5 667.5,250.0 685.0,252.5 700.0,257.5 720.0,263.8 735.0,266.2 745.8,270.0 747.5,273.8 755.0,282.5 765.0,290.0 777.5,297.5 790.0,303.8 802.5,308.8 815.0,313.8 825.0,322.5 832.5,330.0 840.0,337.5 850.0,342.5 857.5,350.0 865.0,355.0 875.0,356.2 880.0,365.0 887.5,372.5 895.0,377.5 902.5,378.8 907.5,382.5 920.0,385.0 930.0,390.0 940.0,387.5 947.5,382.5 960.0,382.5 972.5,390.0 980.0,387.5 990.0,392.5 1000.0,400.0 1010.0,403.8 1015.0,395.0 1022.5,385.0 1035.0,387.5 1047.5,386.2 1060.0,382.5 1070.0,387.5 1077.5,382.5 1075.0,370.0 1070.0,362.5 1077.5,355.0 1085.0,350.0 1115.0,350.0 1125.0,355.0 1130.0,360.0 1135.0,370.0 1145.0,375.0 1160.0,370.0 1170.0,368.8 1190.0,360.0 1215.0,295.0 1215.0,220.0Z" fill="#b3b3b3"/>
<path d="M1117.5,355.0 1122.5,345.0 1130.0,337.5 1137.5,330.0 1145.0,327.5 1150.0,320.0 1152.5,325.0 1146.2,337.5 1140.0,345.0 1132.5,345.0 1126.2,355.0 1120.0,362.5Z" fill="#cc0000"/>
<path d="M1100.0,332.5 1107.5,330.0 1108.8,333.8 1102.5,342.5 1096.2,355.0 1091.2,367.5 1088.8,367.5 1093.8,350.0Z" fill="#cc0000"/>
<path d="M1310.0,320.0 1332.5,385.0 1340.0,390.0 1350.0,392.5 1360.0,395.0 1370.0,390.0 1380.0,392.5 1390.0,400.0 1395.0,400.0 1405.0,395.0 1410.0,400.0 1420.0,402.5 1430.0,392.5 1440.0,390.0 1443.8,382.0 1445.5,380.0 1455.0,369.5 1467.5,364.5 1480.0,357.0 1485.5,349.5 1498.0,350.0 1508.0,346.5 1521.2,342.0 1560.0,340.0 1560.0,245.0 1385.0,245.0Z" fill="#b3b3b3"/>
<path d="M1337.5,395.0 1350.0,392.5 1360.0,400.0 1370.0,395.0 1380.0,400.0 1377.5,410.0 1367.5,417.5 1357.5,420.0 1350.0,412.5 1340.0,407.5Z" fill="#b3b3b3"/>
<path d="M1280.0,402.5 1287.5,398.8 1291.2,410.0 1285.0,417.5 1281.2,412.5Z" fill="#b3b3b3"/>
<path d="M1276.2,423.8 1287.5,420.0 1298.8,426.2 1295.0,430.0 1282.5,429.5Z" fill="#b3b3b3"/>
<path d="M796.2,220.0 796.2,238.8 807.5,250.0 820.0,257.5 832.5,265.0 847.5,268.8 857.5,272.5 865.0,278.8 877.5,285.0 887.5,282.5 896.2,282.5 905.0,285.0 910.0,297.5 920.0,305.0 930.0,310.0 940.0,308.8 952.5,310.0 965.0,312.5 977.5,315.0 987.5,317.5 997.5,321.2 1010.0,325.0 1020.0,320.0 1022.5,325.0 1035.0,330.0 1050.0,335.0 1057.5,335.0 1062.5,327.5 1072.5,322.5 1078.0,317.0 1065.0,313.8 1047.5,308.8 1035.0,305.0 1020.0,303.8 1005.0,302.5 993.0,304.5 1000.0,295.0 1065.0,257.5 1065.0,220.0Z" fill="#4d4d4d"/>
<path d="M1066.2,307.5 1075.0,300.0 1082.5,295.0 1090.0,296.2 1093.0,302.5 1090.0,310.0 1080.0,312.5 1070.0,311.2Z" fill="#4d4d4d"/>
<path d="M1043.8,301.2 1052.5,302.5 1062.5,306.2 1061.2,308.8 1051.2,306.2 1043.8,303.8Z" fill="#4d4d4d"/>
<path d="M1355.0,355.0 1367.5,347.5 1380.0,345.0 1385.0,350.0 1382.5,367.5 1377.5,377.5 1365.0,382.5 1355.0,375.0 1351.2,362.5Z" fill="#4d4d4d"/>
<path d="M1410.0,342.0 1431.2,341.2 1435.0,335.0 1439.5,340.0 1437.5,352.5 1427.5,356.2 1420.0,355.0 1410.0,350.0Z" fill="#4d4d4d"/>
<path d="M1435.0,330.0 1442.5,350.0 1450.0,347.5 1457.5,340.0 1465.0,331.2 1472.5,327.5 1480.0,330.0 1485.0,337.5 1492.5,332.5 1497.5,327.5 1507.5,325.0 1515.0,323.8 1515.0,270.0 1460.0,270.0Z" fill="#4d4d4d"/>
<path d="M600.0,342.5 610.0,337.5 620.0,330.0 630.0,335.0 632.5,345.0 627.5,355.0 635.0,362.5 640.0,372.5 635.0,380.0 642.5,395.0 645.0,405.0 635.0,405.0 637.5,415.0 630.0,420.0 627.5,412.5 620.0,400.0 612.5,392.5 610.0,380.0 602.5,372.5 600.0,360.0Z" fill="#b3b3b3"/>
<path d="M665.0,344.5 675.0,347.5 683.8,356.2 683.8,365.0 677.5,360.0 670.0,350.0Z" fill="#b3b3b3"/>
<path d="M698.7,449.0 712.1,451.2 712.1,466.9 707.6,484.8 700.9,498.3 698.7,514.0 689.7,529.7 685.2,534.2 669.5,534.2 674.0,525.2 683.0,516.2 685.2,500.5 683.0,493.8 689.7,484.8 694.2,471.4 691.9,462.4Z" fill="#b3b3b3"/>
<path d="M700.9,535.3 707.6,530.8 714.3,536.4 713.2,548.7 704.3,549.4Z" fill="#b3b3b3"/>
<path d="M665.0,493.8 670.6,493.8 670.6,499.4 665.0,499.4Z" fill="#b3b3b3"/>
<path d="M674.0,473.6 683.0,471.4 684.1,479.2 675.1,480.4Z" fill="#b3b3b3"/>
<path d="M600.0,449.4 622.4,449.0 625.1,454.6 613.5,456.8 600.0,455.7Z" fill="#b3b3b3"/>
</g></g>
<path d="M411.8,630.4 410.4,631.3 406.9,631.7 403.4,631.3 402.0,630.4 403.4,629.4 406.9,629.0 410.4,629.4Z" fill="#1a70d0"/>
<path d="M421.5,630.1 420.2,631.1 417.0,631.5 413.8,631.1 412.5,630.1 413.8,629.2 417.0,628.8 420.2,629.2Z" fill="#1a70d0"/>
<path d="M422.4,651.0 421.8,652.4 420.4,653.0 418.9,652.4 418.3,651.0 418.9,649.6 420.4,649.0 421.8,649.6Z" fill="#1a70d0"/>
<path d="M445.5,646.5 444.7,648.1 442.8,648.7 440.9,648.1 440.1,646.5 440.9,644.9 442.8,644.3 444.7,644.9Z" fill="#1a70d0"/>
<path d="M445.0,659.3 444.4,662.1 442.8,663.3 441.2,662.1 440.5,659.3 441.2,656.4 442.8,655.2 444.4,656.4Z" fill="#1a70d0"/>
<path d="M1192.4,878.2 1192.0,878.9 1191.1,879.2 1190.1,878.9 1189.7,878.2 1190.1,877.4 1191.1,877.1 1192.0,877.4Z" fill="#cc0000"/>
<path d="M1209.1,879.2 1208.7,879.6 1207.9,879.8 1207.1,879.6 1206.7,879.2 1207.1,878.7 1207.9,878.5 1208.7,878.7Z" fill="#cc0000"/>
<path d="M1214.6,879.8 1218.8,877.0 1224.7,874.5 1227.6,875.3 1223.9,877.8 1218.0,880.3Z" fill="#cc0000"/>
<path d="M1232.8,874.8 1232.4,875.5 1231.4,875.8 1230.5,875.5 1230.1,874.8 1230.5,874.1 1231.4,873.8 1232.4,874.1Z" fill="#cc0000"/>
<path d="M1235.3,873.6 1240.7,867.7 1246.6,860.2 1249.4,856.0 1250.4,857.6 1247.4,862.4 1242.4,868.6 1237.0,874.5Z" fill="#cc0000"/>
<path d="M1489.5,357.0 1496.2,359.0 1503.0,357.0 1504.5,360.0 1496.2,362.0 1490.0,360.0Z" fill="#cc0000"/>
<path d="M1465.5,373.0 1472.5,371.2 1478.8,368.0 1480.5,370.5 1473.8,374.0 1467.0,375.5Z" fill="#cc0000"/>
<path d="M1059.5,262.5 1074.5,256.5 1075.5,258.5 1061.2,266.5Z" fill="#b3b3b3"/>
<path d="M1171.2,312.0 1180.0,312.0 1180.0,317.5 1172.0,317.5Z" fill="#b3b3b3"/>
<path d="M1033.8,287.5 1033.0,288.6 1031.2,289.0 1029.5,288.6 1028.8,287.5 1029.5,286.4 1031.2,286.0 1033.0,286.4Z" fill="#cc0000"/>
<g fill="none" stroke="#000" stroke-width="3.6" stroke-linejoin="round" stroke-linecap="round">
<path d="M352.3,235.5 932.5,235.5 932.5,226.2 941.2,226.2 943.0,235.5 944.5,242.0 953.8,244.5 962.5,247.0 973.8,245.0 983.8,246.2 990.0,251.2 998.8,252.5 1005.0,256.2 1011.2,258.8 1017.5,257.5 1023.8,255.0 1030.0,257.5 1038.8,258.8 1046.2,260.0 1053.8,261.2 1042.5,267.5 1030.0,273.8 1017.5,282.5 1005.0,291.2 997.5,295.5 1006.2,295.0 1015.0,293.0 1024.5,290.0 1025.5,295.0 1023.8,298.0 1032.5,299.0 1043.8,293.0 1055.0,290.0 1065.0,285.5 1075.0,279.2 1083.8,275.5 1090.5,275.5 1091.2,279.0 1085.0,281.8 1078.8,287.5 1083.0,291.8 1088.8,294.2 1095.0,298.0 1101.2,301.0 1110.0,302.5 1117.5,300.0 1125.0,296.5 1135.0,295.0 1148.8,294.2 1150.0,300.0 1155.5,301.5 1162.5,304.0 1165.5,308.0 1171.2,315.0 1160.0,316.5 1151.2,314.5 1140.0,316.5 1130.0,315.0 1122.5,318.8 1115.0,318.8 1108.8,318.0 1103.0,323.0 1100.0,330.0 1096.2,336.2 1092.5,340.5 1088.8,348.0 1085.0,353.0 1088.0,352.0 1095.0,344.0 1102.5,335.5 1110.0,327.0 1113.0,329.5 1107.0,340.0 1100.5,350.5 1095.0,360.5 1090.5,370.0 1087.5,385.0 1088.2,400.0 1089.2,411.2 1092.5,420.0 1097.0,427.5 1103.0,429.0 1110.0,426.5 1115.0,422.5 1118.8,412.5 1121.2,400.0 1120.0,390.0 1116.2,380.0 1115.0,370.0 1117.5,360.0 1120.0,350.0 1125.0,342.5 1130.0,337.5 1135.0,330.0 1138.8,337.5 1141.2,332.5 1145.5,330.0 1150.0,320.5 1153.8,318.8 1162.5,322.5 1172.5,327.5 1180.0,331.8 1184.0,340.0 1185.0,350.0 1181.5,360.0 1175.0,366.2 1171.2,370.5 1175.0,376.5 1182.5,370.0 1190.0,365.0 1196.5,366.5 1200.0,375.0 1201.5,390.0 1199.0,400.0 1195.0,406.2 1190.0,412.5 1187.5,420.0 1186.2,428.0 1190.0,434.0 1202.5,434.0 1215.0,430.5 1227.5,425.5 1240.0,419.2 1240.0,420.0 1257.5,413.8 1267.5,406.2 1275.0,398.8 1275.5,392.5 1272.5,387.0 1282.5,383.8 1295.0,384.0 1307.5,385.0 1320.0,382.5 1330.0,378.8 1333.0,372.5 1330.0,365.0 1335.0,358.8 1345.0,350.0 1353.8,344.0 1361.2,340.5 1431.2,340.5 1435.0,333.8 1438.8,332.5 1445.0,330.0 1447.5,325.0 1455.0,318.8 1457.5,307.5 1462.5,295.0 1471.2,283.8 1478.8,275.5 1483.8,275.5 1485.0,280.0 1492.5,279.0 1500.0,277.0 1506.2,280.0 1511.2,286.2 1512.0,322.5 1517.5,323.8 1516.2,330.0 1520.0,336.2 1525.0,341.2 1526.5,345.0 1520.0,350.0 1510.0,352.5 1502.5,356.5 1495.0,357.5 1488.0,355.5 1485.0,362.5 1477.5,367.5 1470.0,371.2 1463.8,373.0 1457.5,376.5 1452.5,382.5 1447.5,392.5 1445.5,395.5 1447.3,398.4 1449.3,402.4 1445.4,405.5 1441.4,409.4 1442.2,413.3 1446.9,414.1 1449.3,418.1 1451.6,422.8 1450.8,426.3 1447.7,427.5 1444.6,429.4 1441.8,433.0 1439.1,434.5 1436.3,433.0 1434.4,431.0 1432.8,432.2 1429.7,434.5 1426.5,435.5 1414.0,437.0 1401.4,438.6 1392.0,442.5 1383.3,446.3 1379.4,450.2 1374.7,454.9 1373.1,459.7 1380.2,462.8 1379.0,470.0 1379.6,474.0 1376.2,483.0 1370.6,491.9 1370.0,489.6 1366.5,493.6 1361.8,500.4 1357.1,499.0 1353.1,495.0 1350.4,489.6 1349.3,484.2 1349.7,479.9 1347.9,480.2 1347.3,485.6 1348.5,491.6 1351.2,497.7 1354.4,503.7 1357.4,508.5 1357.4,516.5 1355.5,523.3 1352.0,530.0 1346.6,537.0 1342.6,543.7 1339.3,551.3 1338.0,548.8 1337.2,542.1 1339.1,536.7 1340.3,530.0 1337.2,524.6 1338.4,517.9 1336.4,511.1 1335.0,504.4 1334.3,497.7 1335.0,491.0 1334.2,485.0 1332.6,485.6 1328.8,490.3 1326.1,493.6 1324.5,500.4 1326.4,507.1 1324.1,513.8 1326.1,519.2 1324.4,523.3 1326.8,530.0 1326.1,535.4 1328.2,540.8 1326.1,544.1 1329.1,547.5 1327.8,551.3 1332.9,553.9 1337.2,554.6 1342.0,566.2 1345.0,575.0 1348.8,585.0 1349.2,589.0 1345.5,597.5 1335.5,607.5 1332.5,610.5 1320.0,613.0 1310.0,617.5 1305.0,623.0 1300.5,633.0 1277.5,647.5 1265.0,658.0 1252.5,667.5 1237.5,675.0 1230.0,685.0 1226.2,700.0 1223.8,712.5 1222.5,717.5 1222.5,721.5 1225.0,734.0 1228.8,746.5 1232.5,759.0 1237.5,771.5 1240.0,779.0 1243.8,791.5 1247.5,804.0 1251.2,816.5 1253.0,829.0 1252.0,844.0 1248.8,854.0 1243.8,861.5 1235.0,865.2 1228.8,863.0 1226.2,856.5 1222.5,849.0 1217.5,845.2 1213.8,839.0 1212.0,829.0 1207.5,821.5 1203.8,816.5 1200.0,809.0 1196.2,799.0 1195.5,792.8 1194.5,786.5 1196.2,774.0 1195.0,764.0 1191.2,756.5 1185.0,749.0 1178.8,741.5 1172.5,735.2 1165.0,732.8 1160.0,736.5 1152.5,742.8 1145.0,744.5 1138.8,744.0 1136.2,737.8 1130.0,731.5 1122.5,727.8 1112.5,725.2 1100.0,727.8 1092.5,728.5 1086.2,729.0 1083.8,716.5 1081.2,728.0 1075.0,726.5 1065.0,725.2 1055.0,728.0 1050.0,730.5 1056.2,739.0 1060.0,744.0 1053.8,750.2 1058.8,755.2 1063.8,758.0 1057.5,763.0 1053.8,756.5 1048.8,751.5 1043.8,754.0 1040.0,759.0 1032.5,755.5 1025.0,760.5 1020.0,755.5 1012.5,749.0 1006.2,743.0 1000.0,740.5 995.0,744.0 987.5,746.5 977.5,742.8 966.2,742.8 960.0,744.0 950.0,749.0 941.2,755.2 932.5,761.5 922.5,767.8 912.5,774.0 902.5,781.5 895.0,789.0 888.8,799.0 886.2,809.0 887.5,819.0 890.0,831.5 892.0,842.0 885.0,844.0 875.0,840.5 865.0,839.0 855.0,833.0 850.0,829.0 846.2,819.0 842.5,809.0 840.0,799.0 835.0,791.5 830.0,781.5 825.0,771.5 820.0,761.5 813.8,751.5 807.5,745.2 800.0,741.5 792.5,742.2 782.5,741.5 776.2,744.0 772.5,751.5 770.0,759.0 763.8,763.5 755.0,760.2 745.0,754.0 737.5,745.2 732.5,735.2 730.0,726.5 722.5,719.0 715.0,711.5 707.5,702.8 700.0,694.0 695.0,687.0 693.6,689.4 658.3,689.4 658.3,701.3 598.1,701.3 519.5,670.7 521.4,664.6 470.9,669.6 467.5,660.0 462.5,652.5 455.0,643.8 447.5,637.5 442.5,631.2 435.0,630.0 427.5,623.8 417.5,618.8 407.5,617.5 400.0,616.2 397.5,610.0 396.2,600.0 395.0,595.0 390.0,587.5 385.0,580.0 378.8,572.5 372.5,565.0 370.0,558.0 367.0,550.0 362.5,542.5 361.2,535.0 358.8,527.5 350.0,525.5 347.5,523.8 341.2,515.0 335.0,505.0 331.2,495.0 327.5,485.0 322.5,472.5 318.5,460.5 320.0,450.0 323.8,437.5 323.0,425.0 321.5,419.0 316.8,411.1 317.5,404.4 314.6,397.6 317.9,388.7 321.3,379.7 323.5,368.5 325.1,350.6 326.9,332.6 327.4,319.2 326.9,308.4 325.8,302.4 328.0,296.7 325.1,293.4 330.3,288.9 324.7,290.0 322.4,285.5 320.2,277.7 316.8,267.6 312.3,258.6 311.2,251.5 322.4,253.7 333.6,255.3 348.2,256.8 352.0,258.6 353.8,262.0 352.0,266.5 347.1,271.0 344.4,277.7 346.0,283.7 349.8,286.7 354.9,283.7 360.1,278.8 361.7,273.2 360.5,266.5 363.9,260.9 358.7,253.0 360.1,247.4 358.7,242.5 352.7,240.7 352.0,235.5Z M1381.0,452.6 1382.6,450.2 1389.6,447.1 1396.7,444.7 1404.5,442.4 1412.4,440.4 1417.1,440.8 1421.0,442.4 1424.9,444.3 1424.9,445.9 1417.1,450.2 1409.2,454.2 1401.4,456.9 1393.5,458.5 1385.7,459.7 1381.8,460.0 1380.2,456.5Z"/>
<path d="M326.9,308.4 335.9,309.1 344.8,311.3 349.8,316.9 352.0,323.2 360.5,326.3 369.5,323.7 377.4,322.5 385.2,324.8 394.2,321.9 405.4,320.3 416.6,316.9 430.0,314.7 443.5,314.2 457.0,314.0 472.6,313.6 M472.6,235.5 472.6,302.4 473.8,310.2 477.1,314.7 482.7,319.2 485.0,323.7 482.1,330.4 479.4,337.1 476.0,343.8 471.5,349.4 468.2,355.0 469.3,359.5 474.9,361.3 473.8,367.4 472.6,373.0 472.8,420.0 M493.4,235.5 493.0,261.2 497.5,268.8 500.0,276.2 510.0,283.8 520.0,295.0 528.8,297.5 528.8,306.2 526.2,315.0 525.0,325.0 528.8,328.8 535.0,322.5 541.2,330.0 546.2,338.8 550.0,342.5 553.8,350.0 560.0,357.0 568.8,353.8 582.5,353.0 590.0,352.5 592.5,347.5 597.5,353.8 598.5,354.9 M322.0,420.0 598.5,420.0 M598.5,340.9 745.8,340.9 M598.5,340.9 598.5,446.4 640.6,446.4 M745.8,235.5 745.8,446.4 M640.6,446.4 787.8,446.4 M640.6,446.4 640.6,701.3 M535.7,420.0 535.7,575.5 M535.5,551.8 944.1,551.8 M410.3,420.0 410.3,499.1 523.3,604.5 M787.8,446.4 787.8,551.8 M787.8,472.7 929.6,472.7 M767.8,551.8 767.8,565.0 830.9,565.0 830.9,616.1 M767.0,565.0 766.6,683.6 691.7,683.6 693.6,689.4 M745.8,316.2 903.3,316.2 M745.8,393.7 862.5,393.7 M905.6,380.5 1015.6,380.5 M919.9,457.5 1004.8,456.7 M944.3,496.5 944.1,565.0 948.1,594.3 947.0,640.4 M944.1,565.0 1038.1,565.0 M956.3,642.8 956.3,683.9 M956.3,657.3 1016.6,657.3 M1007.6,710.0 1046.9,710.0 M1034.9,604.5 1186.3,604.5 M1091.7,710.0 1146.4,710.0 M1027.8,406.8 1087.5,406.8 M1093.2,426.3 1093.2,489.9 M1150.4,427.9 1150.2,496.5 M1100.1,426.3 1150.6,427.9 1179.0,427.1 M1240.6,412.1 1240.6,480.1 M1240.6,480.1 1340.1,480.1 M1256.6,412.9 1256.6,420.0 1349.3,420.0 M1363.0,340.9 1430.3,340.9 M889.5,235.5 891.2,250.0 893.8,260.0 897.5,270.0 898.8,282.5 900.0,295.0 902.5,305.0 903.8,316.0 900.0,322.5 898.0,325.5 905.0,331.8 905.5,380.0 902.5,385.0 905.0,392.5 902.5,400.0 903.8,406.2 M862.5,393.7 870.0,397.5 876.2,398.8 885.0,397.0 895.0,401.2 903.8,406.2 907.5,415.0 911.2,425.0 915.0,435.0 917.5,443.0 M997.5,295.5 993.8,302.5 993.0,316.2 982.5,320.0 981.2,326.2 986.2,330.0 983.8,337.5 984.5,347.5 990.0,352.5 997.5,357.5 1005.0,362.5 1012.5,370.0 1015.0,380.0 1016.2,390.0 1020.0,397.5 1025.0,405.0 1031.2,412.5 1037.5,417.5 1038.8,425.0 1033.8,432.5 1022.5,437.5 1018.8,443.0 M1032.5,299.0 1060.0,311.5 1081.2,316.0 1088.0,320.5 1088.8,326.2 1090.0,332.5 1092.0,338.2 1088.8,348.0 M830.9,616.1 840.0,621.2 850.0,625.0 860.0,626.2 870.0,631.2 876.2,635.0 885.0,633.8 892.5,637.5 900.0,635.0 910.0,638.8 920.0,633.8 930.0,632.0 937.5,635.0 947.5,639.5 956.2,642.0 M956.3,683.9 960.0,690.0 965.0,697.5 967.5,707.5 965.0,715.0 962.5,725.0 965.0,730.0 962.5,737.5 960.5,743.5 M1038.8,603.8 1032.5,610.0 1025.0,620.0 1020.0,630.0 1016.2,640.0 1015.0,650.0 1017.5,657.5 1018.8,665.0 1022.5,672.5 1021.2,680.0 1016.2,687.5 1012.5,695.0 1008.8,702.5 1007.5,710.0 M1046.9,710.0 1050.0,720.0 1047.5,727.5 1043.0,733.8 M1079.5,604.5 1074.5,685.0 1077.5,726.2 M1134.5,604.5 1142.5,660.0 1150.0,677.5 1145.0,695.0 1146.2,710.0 1148.8,716.2 1207.5,722.5 1210.0,726.5 1212.5,716.5 1220.0,715.0 1222.5,717.5 M1091.7,710.0 1095.0,720.0 1098.0,726.2 M1182.5,610.0 1190.0,620.0 1197.5,627.5 1207.5,637.5 1215.0,647.5 1222.5,660.0 1227.5,672.5 1233.8,678.0 M1183.8,611.2 1192.5,603.8 1205.0,601.2 1232.5,601.2 1236.2,607.5 1238.8,610.0 1260.0,610.0 1285.0,633.0 1288.8,636.2 M1051.7,565.0 1082.2,565.0 1082.2,560.3 1174.1,562.4 1216.2,562.6 1338.4,563.7 M1391.8,340.4 1392.6,351.4 1391.8,364.0 1391.0,376.5 1394.2,379.7 1394.2,399.3 1392.6,400.4 1390.2,417.6 1387.9,439.3 1384.7,445.9 M1431.8,340.1 1429.5,348.3 1425.6,356.1 1420.1,360.8 1418.5,368.7 1415.4,378.1 1412.2,385.9 1410.6,392.2 1409.1,399.7 M1440.8,331.3 1442.0,340.4 1442.8,367.1 1443.6,385.9 1447.1,392.5 M1394.2,399.7 1434.2,401.6 1440.5,398.5 1445.5,395.4 M1390.2,418.1 1425.6,419.2 1434.2,419.2 1436.5,428.3 1440.5,433.3 M1425.6,419.2 1425.6,438.1 M1349.4,419.5 1354.9,423.6 1358.1,429.9 1360.4,437.0 1358.8,442.4 1354.9,445.6 1355.7,450.3 1353.3,455.0 1354.1,460.5 M1360.4,437.0 1377.7,446.5 M1262.2,479.5 1262.2,493.6 1266.9,491.0 1272.3,486.9 1277.7,484.2 1283.1,483.1 1287.1,483.7 1291.8,487.6 1295.9,492.3 1299.2,493.6 1303.3,491.6 1307.3,495.0 1312.7,499.0 1316.7,500.4 1315.6,505.8 1311.3,510.1 1310.0,513.8 1313.4,516.5 1318.1,518.1 1320.8,521.9 1324.1,524.6 1326.8,530.7 M1287.4,486.9 1287.8,491.6 1283.1,497.7 1277.7,503.1 1273.6,504.4 1270.3,507.1 1268.3,512.5 1262.9,511.1 1258.8,511.1 1256.2,517.9 1252.1,524.6 1248.1,531.3 1245.4,535.4 1240.0,540.8 M1343.6,513.8 1343.6,480.2 1346.3,476.2 1351.7,474.1 M1343.6,513.8 1356.0,513.8 M1361.1,461.3 1365.2,468.1 1359.8,472.1 1354.4,476.2 1351.7,474.1 1349.0,478.8 M1240.6,451.0 1239.2,456.7 1238.3,468.1 1234.5,479.6 1228.8,485.3 1221.1,489.1 1215.4,494.8 1211.6,500.5 1207.8,506.3 1204.0,512.0 1198.2,513.9 1192.5,506.3 1186.8,508.2 1179.2,508.2 1171.6,506.3 1163.9,502.4 1158.2,496.7 1152.5,495.8 1150.6,502.4 1143.0,506.3 1139.1,510.1 1135.3,515.8 1129.6,519.6 1123.9,525.3 1118.2,520.6 1112.4,527.2 1106.7,525.3 1101.0,529.1 1093.4,527.2 1086.7,529.1 1081.0,533.9 1079.1,538.7 1074.3,540.6 1075.3,546.3 1070.5,548.2 1063.8,546.3 1061.0,552.0 1059.4,554.9 M1094.3,491.0 1091.5,494.8 1093.4,502.4 1089.6,510.1 1085.8,517.7 1082.9,525.3 1081.0,533.9 M1198.2,513.9 1199.2,521.5 1202.1,529.1 1207.8,536.8 1211.6,540.6 1219.2,544.4 1230.7,542.5 1242.1,540.6 1247.8,534.9 1251.6,527.2 1257.3,515.8 1261.2,509.1 M1209.7,539.6 1202.1,546.3 1192.5,553.9 1184.9,559.6 1181.1,561.9 M1217.3,562.5 1211.6,571.1 1202.1,576.8 1192.5,580.6 1181.1,586.3 1171.6,594.0 1165.8,600.1 1160.7,604.5 M1035.0,410.0 1038.8,420.0 1032.5,430.0 1022.5,435.0 1018.8,442.5 1020.0,450.0 1013.8,456.2 1011.2,463.8 1013.8,475.0 1020.0,485.0 1027.5,492.5 1030.0,500.0 1037.5,503.8 1035.0,515.0 1040.0,522.5 1047.5,530.0 1052.5,537.5 1055.0,546.2 1062.5,548.8 1058.8,556.2 1052.5,562.5 1047.5,572.5 1043.8,582.5 1038.8,595.0 1035.5,604.5 M1004.8,457.0 1011.2,463.0 M1032.5,565.0 1036.5,572.5 1034.0,578.0 1047.5,577.5 M906.2,410.0 912.5,422.5 915.0,435.0 920.0,450.0 925.0,460.0 928.8,468.8 930.0,472.5 932.5,476.2 937.5,477.5 936.2,485.0 942.5,492.5 944.5,496.5 M535.7,575.5 534.7,575.4 528.0,577.2 521.3,575.9 520.1,584.8 523.5,599.4 525.7,607.3 532.5,616.2 533.6,624.1 528.0,629.7 524.6,638.7 521.3,647.6 523.5,654.3 526.9,656.6 525.7,662.2 519.5,665.6 519.0,671.2"/>
<path d="M1448.5,427.1 1453.2,425.3 1457.9,426.1 1462.6,426.7 1465.2,423.5 1464.2,419.8 1461.1,417.4 1458.5,418.2" stroke-width="4.5"/>
<path d="M1461.1,438.1 1463.8,438.6" stroke-width="6"/>
<path d="M1447.7,435.7 1452.4,436.1" stroke-width="6"/>
<path d="M1326.8,530.7 1331.5,535.4 1334.9,538.7" stroke-width="4.5"/>
<path d="M1319.4,535.4 1326.1,539.4 1332.9,543.4" stroke-width="4.5"/>
<path d="M1319.4,544.8 1326.1,547.5 1334.2,552.9" stroke-width="4.5"/>
<path d="M1333.9,486.9 1332.9,495.0 1333.8,504.4 1332.9,513.8 1334.2,523.3 1333.1,532.7 1334.5,540.8 1336.4,548.2" stroke-width="7"/>
<path d="M1326.1,493.6 1329.5,500.4 1327.5,507.1" stroke-width="4"/>
<path d="M356.1,242.9 357.8,251.9 361.0,260.9 359.4,269.8 357.8,277.7 352.7,283.7 348.2,283.7" stroke-width="7"/>
<path d="M346.0,245.2 350.4,247.4 348.2,242.9" stroke-width="6"/>
<path d="M352.5,258.6 350.7,267.6 347.5,277.7" stroke-width="8"/>
<path d="M360.0,525.5 363.8,532.5 367.0,538.0" stroke-width="6"/>
<path d="M1195.6,791.3 1199.0,793.4" stroke-width="7"/>
<path d="M1205.7,817.3 1208.4,819.0" stroke-width="5"/>
<path d="M1229.7,860.2 1232.3,863.5" stroke-width="5"/>
<path d="M1137.5,337.5 1139.5,343.0" stroke-width="5"/>
<path d="M1322.5,570.0 1332.5,572.5 1340.0,570.0" stroke-width="4"/>
<path d="M1322.5,576.2 1330.0,582.5 1335.0,590.0 1340.0,585.0" stroke-width="4"/>
<path d="M1315.0,595.0 1325.0,600.0 1335.0,598.8 1330.0,607.5" stroke-width="4"/>
<path d="M1310.0,607.5 1320.0,610.0" stroke-width="4"/>
<path d="M1083.8,716.5 1082.5,727.8" stroke-width="4"/>
<path d="M936.2,744.0 941.2,749.0 940.0,754.0" stroke-width="5"/>
<path d="M900.0,771.5 910.0,769.0 916.2,770.2" stroke-width="5"/>
<path d="M878.8,804.0 885.0,805.2" stroke-width="5"/>
<path d="M882.5,792.8 888.8,794.0" stroke-width="4"/>
<path d="M1050.0,730.5 1043.8,725.2 1037.5,726.0 1033.8,731.5 1040.0,735.2 1048.8,734.5 1053.8,732.8" stroke-width="3.2"/>
</g>
<text class="lt" x="1569.5" y="403">Relative pop. size</text>
<rect x="1571" y="416.80" width="25.4" height="25.75" fill="#4d4d4d"/>
<text class="ll" x="1606.5" y="437.23">excl.-severe</text>
<rect x="1571" y="442.25" width="25.4" height="25.75" fill="#b3b3b3"/>
<text class="ll" x="1606.5" y="462.68">excl.-moderate</text>
<rect x="1571" y="467.70" width="25.4" height="25.75" fill="#1a70d0"/>
<text class="ll" x="1606.5" y="488.12">0-10</text>
<rect x="1571" y="493.15" width="25.4" height="25.75" fill="#4a90a0"/>
<text class="ll" x="1606.5" y="513.58">10-20</text>
<rect x="1571" y="518.60" width="25.4" height="25.75" fill="#7aae72"/>
<text class="ll" x="1606.5" y="539.03">20-30</text>
<rect x="1571" y="544.05" width="25.4" height="25.75" fill="#b0d040"/>
<text class="ll" x="1606.5" y="564.48">30-40</text>
<rect x="1571" y="569.50" width="25.4" height="25.75" fill="#e4ec1a"/>
<text class="ll" x="1606.5" y="589.93">40-50</text>
<rect x="1571" y="594.95" width="25.4" height="25.75" fill="#f7e400"/>
<text class="ll" x="1606.5" y="615.38">50-60</text>
<rect x="1571" y="620.40" width="25.4" height="25.75" fill="#f0a800"/>
<text class="ll" x="1606.5" y="640.83">60-70</text>
<rect x="1571" y="645.85" width="25.4" height="25.75" fill="#e67000"/>
<text class="ll" x="1606.5" y="666.28">70-80</text>
<rect x="1571" y="671.30" width="25.4" height="25.75" fill="#dd3800"/>
<text class="ll" x="1606.5" y="691.73">80-90</text>
<rect x="1571" y="696.75" width="25.4" height="25.75" fill="#cc0000"/>
<text class="ll" x="1606.5" y="717.18">90-100</text>
</svg>
</body></html>
